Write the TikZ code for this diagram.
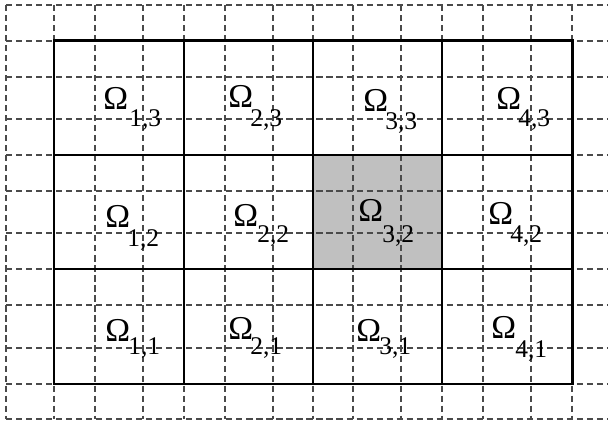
\documentclass[tikz,border=0pt]{standalone}
\usepackage{fontspec}
\setmainfont{Liberation Serif}
\definecolor{Grid}{HTML}{4A4A4A}
\definecolor{Shade}{HTML}{C0C0C0}
\tikzset{
  gridline/.style={Grid,line width=.6pt,dash pattern=on 3.5pt off 2.2pt},
  omega/.style={anchor=base west,inner sep=0pt,font=\fontsize{19}{21}\selectfont},
  subidx/.style={anchor=base west,inner sep=0pt,font=\fontsize{14.5}{16}\selectfont},
}

\begin{document}
\begin{tikzpicture}[x=.02cm,y=-.02cm]
  \useasboundingbox (0,0) rectangle (608,421);
  % shaded subdomain
  \fill[Shade] (313,155) rectangle (442,269);
  % fine dashed grid
  \foreach \x in {6,54,95,143,184,225,273,313,353,401,442,483,531,572}
    \draw[gridline] (\x,5)--(\x,419);
  \foreach \y in {5,41,77,119,155,191,233,269,305,348,384,419}
    \draw[gridline] (6,\y)--(608,\y);
  % subdomain boundaries
  \draw[line width=.6pt] (184,41)--(184,384) (313,41)--(313,384) (442,41)--(442,384)
    (54,155)--(572,155) (54,269)--(572,269);
  \draw[line width=1.7pt] (54,41) rectangle (572,384);
  % labels
  \foreach \i/\j/\ox/\oy/\sx/\sy in {1/3/103/110/129/127,2/3/228/108/250/127,3/3/363/112/385/130,4/3/496/110/518/127,
      1/2/105/228/127/247,2/2/233/227/257/243,3/2/358/222/382/243,4/2/488/225/510/243,
      1/1/105/342/128/355,2/1/228/340/250/355,3/1/356/342/379/355,4/1/491/339/515/358}{
    \node[omega] (w\i\j) at (\ox,\oy) {Ω};
    \node[subidx] (s\i\j) at (\sx,\sy) {\i,\j};
  }
\end{tikzpicture}
\end{document}
